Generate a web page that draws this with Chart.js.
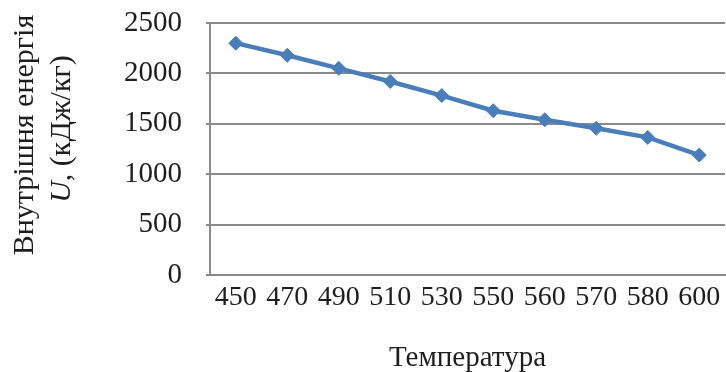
<!DOCTYPE html>
<html>
<head>
<meta charset="utf-8">
<script src="https://cdn.jsdelivr.net/npm/chart.js@4/dist/chart.umd.min.js"></script>
<style>
  html, body { margin: 0; padding: 0; background: #fff; overflow: hidden; }
  canvas { display: block; }
</style>
</head>
<body>
<canvas id="chart" width="733" height="372"></canvas>
<script>
const temps = ["450","470","490","510","530","550","560","570","580","600"];
const energy = [2300, 2180, 2050, 1920, 1780, 1630, 1540, 1455, 1365, 1190];
const yTicks = [0, 500, 1000, 1500, 2000, 2500];

const xTitle = "Температура";
const yTitle1 = "Внутрішня енергія";
const yTitle2a = "U";
const yTitle2b = ", (кДж/кг)";

const FONT = "'Liberation Serif', 'Times New Roman', serif";
const TEXT = "#1e1e1e";

// y title is drawn by hand, the second line has an italic U
const yTitlePlugin = {
  id: "yTitle",
  afterDraw(chart) {
    const ctx = chart.ctx;
    ctx.save();
    ctx.fillStyle = TEXT;
    ctx.textBaseline = "middle";

    ctx.save();
    ctx.translate(25, 135);
    ctx.rotate(-Math.PI / 2);
    ctx.font = "30px " + FONT;
    ctx.textAlign = "center";
    ctx.fillText(yTitle1, 0, 0);
    ctx.restore();

    ctx.save();
    ctx.translate(62, 129);
    ctx.rotate(-Math.PI / 2);
    ctx.textAlign = "left";
    ctx.font = "italic 30px " + FONT;
    const wa = ctx.measureText(yTitle2a).width;
    ctx.font = "30px " + FONT;
    const wb = ctx.measureText(yTitle2b).width;
    const x = -(wa + wb) / 2;
    ctx.font = "italic 30px " + FONT;
    ctx.fillText(yTitle2a, x, 0);
    ctx.font = "30px " + FONT;
    ctx.fillText(yTitle2b, x + wa, 0);
    ctx.restore();

    ctx.restore();
  }
};

new Chart(document.getElementById("chart"), {
  type: "line",
  data: {
    labels: temps,
    datasets: [{
      data: energy,
      borderColor: "#4a7ebb",
      backgroundColor: "#4a7ebb",
      borderWidth: 4.5,
      pointStyle: "rectRot",
      pointRadius: 7,
      pointBorderWidth: 1,
      tension: 0
    }]
  },
  options: {
    responsive: false,
    animation: false,
    devicePixelRatio: 1,
    layout: { padding: 0 },
    plugins: {
      legend: { display: false },
      tooltip: { enabled: false }
    },
    scales: {
      x: {
        offset: true,
        afterFit(axis) {
          axis.paddingLeft = 0;
          axis.paddingRight = 0;
          axis.height = 97;
        },
        grid: { display: false, drawTicks: false },
        border: { display: true, color: "#8a8a8a", width: 2 },
        ticks: {
          padding: 6,
          color: TEXT,
          font: { family: FONT, size: 28 },
          maxRotation: 0,
          autoSkip: false
        },
        title: {
          display: true,
          text: xTitle,
          color: TEXT,
          font: { family: FONT, size: 29 },
          padding: { top: 0, bottom: -4 }
        }
      },
      y: {
        min: 0,
        max: 2500,
        afterBuildTicks(axis) {
          axis.ticks = yTicks.map(v => ({ value: v }));
        },
        afterFit(axis) {
          axis.width = 210;
          axis.paddingTop = 23;
        },
        grid: {
          color: "#8a8a8a",
          lineWidth: 2,
          tickLength: 4
        },
        border: { display: true, color: "#8a8a8a", width: 2 },
        ticks: {
          padding: 24,
          color: TEXT,
          font: { family: FONT, size: 29 },
          callback: v => String(v)
        }
      }
    }
  },
  plugins: [yTitlePlugin]
});
</script>
</body>
</html>
